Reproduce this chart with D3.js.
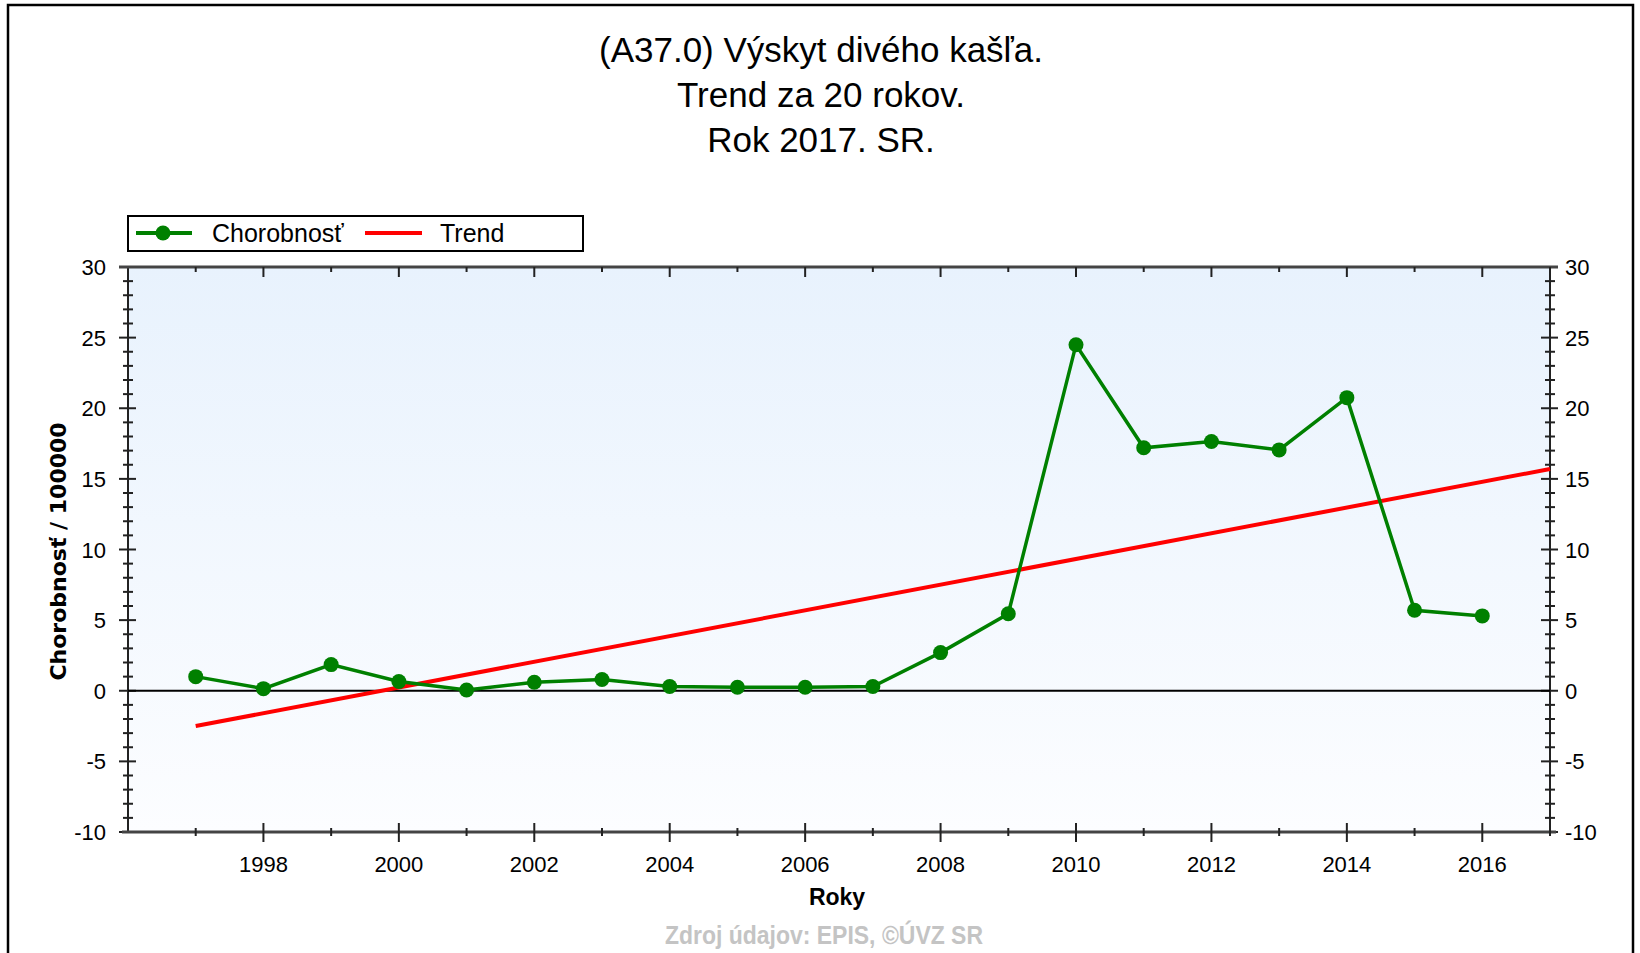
<!DOCTYPE html>
<html>
<head>
<meta charset="utf-8">
<script src="https://cdn.jsdelivr.net/npm/d3@7"></script>
<style>
  body { margin: 0; background: #fff; }
  svg { display: block; }
</style>
</head>
<body>
<svg id="chart" width="1640" height="953"></svg>
<script>
// data
const titleLines = ["(A37.0) Výskyt divého kašľa.", "Trend za 20 rokov.", "Rok 2017. SR."];
const years = [1997, 1998, 1999, 2000, 2001, 2002, 2003, 2004, 2005, 2006,
               2007, 2008, 2009, 2010, 2011, 2012, 2013, 2014, 2015, 2016];
const incidence = [1.0, 0.15, 1.85, 0.65, 0.05, 0.6, 0.8, 0.3, 0.25, 0.25,
                   0.3, 2.7, 5.45, 24.5, 17.2, 17.65, 17.05, 20.75, 5.7, 5.3];
const trendYears = [1997, 2017];
const trendValues = [-2.5, 15.7];
const yTicks = [-10, -5, 0, 5, 10, 15, 20, 25, 30];
const xLabelYears = [1998, 2000, 2002, 2004, 2006, 2008, 2010, 2012, 2014, 2016];

const svg = d3.select("#chart");
const plotL = 128, plotR = 1550, plotT = 267, plotB = 832;

const x = d3.scaleLinear().domain([1996, 2017]).range([plotL, plotR]);
const y = d3.scaleLinear().domain([-10, 30]).range([plotB, plotT]);

// outer frame
svg.append("rect")
  .attr("x", 8).attr("y", 5)
  .attr("width", 1625).attr("height", 1000)
  .attr("fill", "#fff")
  .attr("stroke", "#000")
  .attr("stroke-width", 2.5);

// title
svg.append("g")
  .selectAll("text")
  .data(titleLines)
  .enter()
  .append("text")
  .attr("x", 821)
  .attr("y", (d, i) => 62 + i * 45)
  .attr("text-anchor", "middle")
  .style("font-family", "'Liberation Sans', Arial, sans-serif")
  .style("font-size", "35px")
  .attr("fill", "#000")
  .text(d => d);

// plot background
const defs = svg.append("defs");
const grad = defs.append("linearGradient")
  .attr("id", "bg").attr("x1", 0).attr("y1", 0).attr("x2", 0).attr("y2", 1);
grad.append("stop").attr("offset", "0%").attr("stop-color", "#e8f2fd");
grad.append("stop").attr("offset", "100%").attr("stop-color", "#fcfdff");

svg.append("rect")
  .attr("x", plotL).attr("y", plotT)
  .attr("width", plotR - plotL).attr("height", plotB - plotT)
  .attr("fill", "url(#bg)");

// legend
const legend = svg.append("g");
legend.append("rect")
  .attr("x", 128).attr("y", 216)
  .attr("width", 455).attr("height", 35)
  .attr("fill", "#fff")
  .attr("stroke", "#000")
  .attr("stroke-width", 2);
legend.append("line")
  .attr("x1", 136).attr("x2", 192).attr("y1", 233).attr("y2", 233)
  .attr("stroke", "#008000").attr("stroke-width", 4);
legend.append("circle")
  .attr("cx", 163).attr("cy", 233).attr("r", 7.5)
  .attr("fill", "#008000");
legend.append("text")
  .attr("x", 212).attr("y", 242)
  .style("font-family", "'Liberation Sans', Arial, sans-serif")
  .style("font-size", "25px")
  .text("Chorobnosť");
legend.append("line")
  .attr("x1", 365).attr("x2", 422).attr("y1", 233).attr("y2", 233)
  .attr("stroke", "#ff0000").attr("stroke-width", 4);
legend.append("text")
  .attr("x", 440).attr("y", 242)
  .style("font-family", "'Liberation Sans', Arial, sans-serif")
  .style("font-size", "25px")
  .text("Trend");

// axes: major + minor ticks crossing the axis line
const axisColor = "#222";
const minorY = d3.range(-10, 31, 1);
const minorX = d3.range(1997, 2018, 1);

function yTickMarks(xPos) {
  const g = svg.append("g");
  g.append("line")
    .attr("x1", xPos).attr("x2", xPos).attr("y1", plotT).attr("y2", plotB)
    .attr("stroke", axisColor).attr("stroke-width", 2);
  g.selectAll("line.t")
    .data(minorY)
    .enter()
    .append("line")
    .attr("class", "t")
    .attr("x1", d => xPos - (d % 5 === 0 ? 9 : 5))
    .attr("x2", d => xPos + (d % 5 === 0 ? 8 : 5))
    .attr("y1", d => y(d)).attr("y2", d => y(d))
    .attr("stroke", axisColor).attr("stroke-width", 2);
}
yTickMarks(plotL);
yTickMarks(plotR);

// top frame line with downward ticks
const topG = svg.append("g");
topG.append("line")
  .attr("x1", plotL - 9).attr("x2", plotR + 8).attr("y1", plotT).attr("y2", plotT)
  .attr("stroke", "#444").attr("stroke-width", 3);
topG.selectAll("line.t")
  .data(minorX)
  .enter()
  .append("line")
  .attr("class", "t")
  .attr("x1", d => x(d)).attr("x2", d => x(d))
  .attr("y1", plotT).attr("y2", d => plotT + (d % 2 === 0 ? 10 : 5))
  .attr("stroke", axisColor).attr("stroke-width", 2);

// bottom axis
const botG = svg.append("g");
botG.append("line")
  .attr("x1", plotL - 6).attr("x2", plotR + 6).attr("y1", plotB).attr("y2", plotB)
  .attr("stroke", "#444").attr("stroke-width", 3);
botG.selectAll("line.t")
  .data(minorX)
  .enter()
  .append("line")
  .attr("class", "t")
  .attr("x1", d => x(d)).attr("x2", d => x(d))
  .attr("y1", d => plotB - (d % 2 === 0 ? 9 : 4))
  .attr("y2", d => plotB + (d % 2 === 0 ? 10 : 4))
  .attr("stroke", axisColor).attr("stroke-width", 2);

botG.selectAll("text")
  .data(xLabelYears)
  .enter()
  .append("text")
  .attr("x", d => x(d))
  .attr("y", 872)
  .attr("text-anchor", "middle")
  .style("font-family", "'Liberation Sans', Arial, sans-serif")
  .style("font-size", "22px")
  .text(d => d);

// y tick labels
const labelStyle = sel => sel
  .style("font-family", "'Liberation Sans', Arial, sans-serif")
  .style("font-size", "22px");

svg.append("g").selectAll("text")
  .data(yTicks)
  .enter()
  .append("text")
  .attr("x", 106)
  .attr("y", d => y(d) + 8)
  .attr("text-anchor", "end")
  .call(labelStyle)
  .text(d => d);

svg.append("g").selectAll("text")
  .data(yTicks)
  .enter()
  .append("text")
  .attr("x", 1565)
  .attr("y", d => y(d) + 8)
  .attr("text-anchor", "start")
  .call(labelStyle)
  .text(d => d);

// zero line
svg.append("line")
  .attr("x1", plotL).attr("x2", plotR)
  .attr("y1", y(0)).attr("y2", y(0))
  .attr("stroke", "#000").attr("stroke-width", 2);

// axis titles
svg.append("text")
  .attr("transform", `translate(66, ${(plotT + plotB) / 2 + 2}) rotate(-90)`)
  .attr("text-anchor", "middle")
  .style("font-family", "'DejaVu Sans', Verdana, sans-serif")
  .style("font-weight", "bold")
  .style("font-size", "22px")
  .text("Chorobnosť / 100000");

svg.append("text")
  .attr("x", 837).attr("y", 905)
  .attr("text-anchor", "middle")
  .style("font-family", "'Liberation Sans', Arial, sans-serif")
  .style("font-weight", "bold")
  .style("font-size", "23px")
  .text("Roky");

// source note, squeezed to the narrow width of the original
svg.append("text")
  .attr("x", 665).attr("y", 944)
  .attr("textLength", 318)
  .attr("lengthAdjust", "spacingAndGlyphs")
  .style("font-family", "'Liberation Sans', Arial, sans-serif")
  .style("font-weight", "bold")
  .style("font-size", "25px")
  .attr("fill", "#c4c4c4")
  .text("Zdroj údajov: EPIS, ©ÚVZ SR");

// trend line
const trend = trendYears.map((yr, i) => ({ year: yr, value: trendValues[i] }));
svg.append("path")
  .datum(trend)
  .attr("fill", "none")
  .attr("stroke", "#ff0000")
  .attr("stroke-width", 4)
  .attr("d", d3.line().x(d => x(d.year)).y(d => y(d.value)));

// incidence series
const series = years.map((yr, i) => ({ year: yr, value: incidence[i] }));
svg.append("path")
  .datum(series)
  .attr("fill", "none")
  .attr("stroke", "#008000")
  .attr("stroke-width", 3.5)
  .attr("d", d3.line().x(d => x(d.year)).y(d => y(d.value)));

svg.append("g")
  .selectAll("circle")
  .data(series)
  .enter()
  .append("circle")
  .attr("cx", d => x(d.year))
  .attr("cy", d => y(d.value))
  .attr("r", 7.5)
  .attr("fill", "#008000");
</script>
</body>
</html>
